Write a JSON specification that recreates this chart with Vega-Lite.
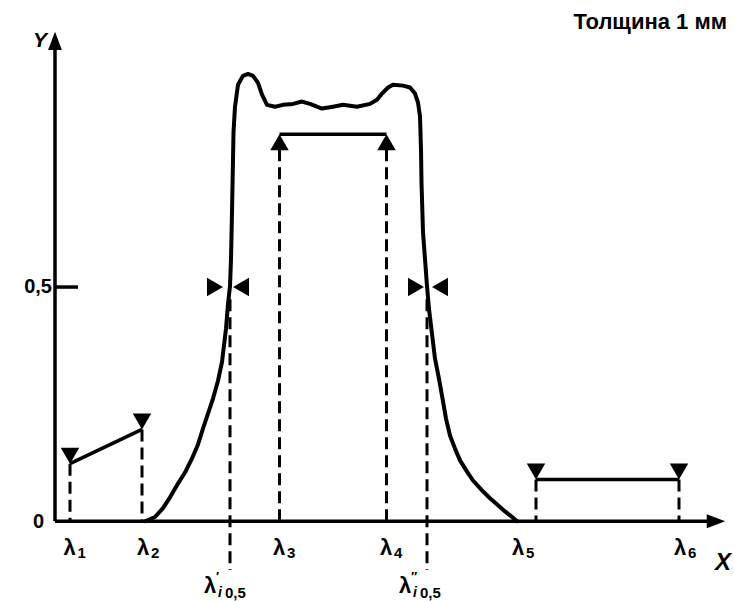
{
  "$schema": "https://vega.github.io/schema/vega-lite/v6.json",
  "width": 734,
  "height": 601,
  "padding": 0,
  "autosize": {"type": "fit", "contains": "padding"},
  "background": "white",
  "config": {"view": {"stroke": null}},
  "datasets": {
    "curve": [
      {"x": 90, "y": 0}, {"x": 100, "y": 0.009}, {"x": 108, "y": 0.028}, {"x": 115, "y": 0.051},
      {"x": 122, "y": 0.077}, {"x": 130, "y": 0.104}, {"x": 137, "y": 0.134}, {"x": 143, "y": 0.164},
      {"x": 148, "y": 0.198}, {"x": 153, "y": 0.23}, {"x": 158, "y": 0.262}, {"x": 163, "y": 0.3},
      {"x": 167, "y": 0.34}, {"x": 171, "y": 0.411}, {"x": 173, "y": 0.464}, {"x": 175, "y": 0.502},
      {"x": 176, "y": 0.56}, {"x": 177, "y": 0.66}, {"x": 178, "y": 0.772}, {"x": 178.5, "y": 0.83},
      {"x": 180, "y": 0.885}, {"x": 183, "y": 0.932}, {"x": 188, "y": 0.951}, {"x": 193, "y": 0.955},
      {"x": 198, "y": 0.951}, {"x": 203, "y": 0.936}, {"x": 207, "y": 0.911}, {"x": 212, "y": 0.889},
      {"x": 220, "y": 0.885}, {"x": 228, "y": 0.889}, {"x": 238, "y": 0.891}, {"x": 247, "y": 0.896},
      {"x": 255, "y": 0.891}, {"x": 267, "y": 0.881}, {"x": 278, "y": 0.885}, {"x": 288, "y": 0.889},
      {"x": 302, "y": 0.885}, {"x": 315, "y": 0.891}, {"x": 322, "y": 0.9}, {"x": 327, "y": 0.913},
      {"x": 333, "y": 0.926}, {"x": 338, "y": 0.932}, {"x": 348, "y": 0.93}, {"x": 355, "y": 0.926},
      {"x": 360, "y": 0.913}, {"x": 363, "y": 0.894}, {"x": 365, "y": 0.864}, {"x": 366, "y": 0.794},
      {"x": 366.5, "y": 0.723}, {"x": 368, "y": 0.617}, {"x": 370, "y": 0.56}, {"x": 372, "y": 0.502},
      {"x": 374, "y": 0.453}, {"x": 377, "y": 0.4}, {"x": 380, "y": 0.347}, {"x": 384, "y": 0.304},
      {"x": 387, "y": 0.268}, {"x": 391, "y": 0.219}, {"x": 395, "y": 0.183}, {"x": 400, "y": 0.155},
      {"x": 405, "y": 0.13}, {"x": 412, "y": 0.106}, {"x": 418, "y": 0.087}, {"x": 427, "y": 0.066},
      {"x": 435, "y": 0.049}, {"x": 443, "y": 0.034}, {"x": 450, "y": 0.021}, {"x": 456, "y": 0.011},
      {"x": 462, "y": 0}
    ],
    "solid": [
      {"x": 0, "x2": 656, "y": 0, "y2": 0},
      {"x": 0, "x2": 0, "y": 0, "y2": 1.01},
      {"x": 0, "x2": 23, "y": 0.5, "y2": 0.5},
      {"x": 15, "x2": 87, "y": 0.123, "y2": 0.196},
      {"x": 224.5, "x2": 331.5, "y": 0.826, "y2": 0.826},
      {"x": 481, "x2": 624, "y": 0.089, "y2": 0.089}
    ],
    "dashes": [
      {"x": 15, "y": 0.123, "y2": 0},
      {"x": 87, "y": 0.196, "y2": 0},
      {"x": 224.5, "y": 0.794, "y2": 0},
      {"x": 331.5, "y": 0.794, "y2": 0},
      {"x": 175, "y": 0.474, "y2": -0.104},
      {"x": 372, "y": 0.474, "y2": -0.104},
      {"x": 481, "y": 0.089, "y2": 0},
      {"x": 624, "y": 0.089, "y2": 0}
    ],
    "marks": [
      {"x": 15, "y": 0.14, "d": "down"},
      {"x": 87, "y": 0.213, "d": "down"},
      {"x": 224.5, "y": 0.809, "d": "up"},
      {"x": 331.5, "y": 0.809, "d": "up"},
      {"x": 481, "y": 0.106, "d": "down"},
      {"x": 624, "y": 0.106, "d": "down"},
      {"x": 160, "y": 0.5, "d": "right"},
      {"x": 186, "y": 0.5, "d": "left"},
      {"x": 361, "y": 0.5, "d": "right"},
      {"x": 385, "y": 0.5, "d": "left"},
      {"x": 661, "y": 0, "d": "xa"},
      {"x": 0, "y": 1.0255, "d": "ya"}
    ],
    "lam": [
      {"x": 14.5, "y": -0.057, "t": "λ", "s": "1"},
      {"x": 88, "y": -0.057, "t": "λ", "s": "2"},
      {"x": 224, "y": -0.057, "t": "λ", "s": "3"},
      {"x": 331, "y": -0.057, "t": "λ", "s": "4"},
      {"x": 463, "y": -0.057, "t": "λ", "s": "5"},
      {"x": 625, "y": -0.057, "t": "λ", "s": "6"}
    ],
    "lamp": [
      {"x": 155, "y": -0.138, "t": "λ", "p": "′", "i": "i", "s": "0,5"},
      {"x": 350, "y": -0.138, "t": "λ", "p": "″", "i": "i", "s": "0,5"}
    ],
    "labels": [
      {"x": -11, "y": -0.002, "t": "0"},
      {"x": -3, "y": 0.5, "t": "0,5"}
    ],
    "axnames": [
      {"x": -15, "y": 1.026, "t": "Y", "k": "y"},
      {"x": 668, "y": -0.089, "t": "X", "k": "x"}
    ],
    "title": [
      {"x": 672, "y": 1.066, "t": "Толщина 1 мм"}
    ]
  },
  "encoding": {
    "x": {"field": "x", "type": "quantitative", "axis": null, "scale": {"domain": [-55, 679], "nice": false, "zero": false}},
    "y": {"field": "y", "type": "quantitative", "axis": null, "scale": {"domain": [-0.166, 1.1128], "nice": false, "zero": false}}
  },
  "layer": [
    {
      "data": {"name": "solid"},
      "mark": {"type": "rule", "color": "black", "strokeWidth": 3.5},
      "encoding": {"x2": {"field": "x2"}, "y2": {"field": "y2"}}
    },
    {
      "data": {"name": "dashes"},
      "mark": {"type": "rule", "color": "black", "strokeWidth": 3, "strokeDash": [12, 6]},
      "encoding": {"y2": {"field": "y2"}}
    },
    {
      "data": {"name": "curve"},
      "mark": {"type": "line", "color": "black", "strokeWidth": 4, "strokeJoin": "round", "strokeCap": "round"},
      "encoding": {"order": {"value": null}}
    },
    {
      "data": {"name": "marks"},
      "mark": {"type": "point", "filled": true, "color": "black", "opacity": 1, "size": 340, "strokeWidth": 0},
      "encoding": {
        "shape": {
          "field": "d", "type": "nominal", "legend": null,
          "scale": {
            "domain": ["down", "up", "right", "left", "xa", "ya"],
            "range": ["triangle-down", "triangle-up", "triangle-right", "triangle-left", "M1,0L-1,-0.75L-1,0.75Z", "M0,-1L-0.75,1L0.75,1Z"]
          }
        }
      }
    },
    {
      "data": {"name": "lam"},
      "mark": {"type": "text", "font": "Liberation Sans", "fontWeight": "bold", "fontSize": 22, "align": "center", "baseline": "middle", "color": "black"},
      "encoding": {"text": {"field": "t"}}
    },
    {
      "data": {"name": "lam"},
      "mark": {"type": "text", "font": "Liberation Sans", "fontWeight": "bold", "fontSize": 15, "align": "left", "baseline": "middle", "dx": 8, "dy": 5, "color": "black"},
      "encoding": {"text": {"field": "s"}}
    },
    {
      "data": {"name": "lamp"},
      "mark": {"type": "text", "font": "Liberation Sans", "fontWeight": "bold", "fontSize": 22, "align": "center", "baseline": "middle", "color": "black"},
      "encoding": {"text": {"field": "t"}}
    },
    {
      "data": {"name": "lamp"},
      "mark": {"type": "text", "font": "Liberation Sans", "fontWeight": "bold", "fontSize": 13, "align": "left", "baseline": "middle", "dx": 6, "dy": -9, "color": "black"},
      "encoding": {"text": {"field": "p"}}
    },
    {
      "data": {"name": "lamp"},
      "mark": {"type": "text", "font": "Liberation Sans", "fontWeight": "bold", "fontStyle": "italic", "fontSize": 14, "align": "left", "baseline": "middle", "dx": 8, "dy": 7, "color": "black"},
      "encoding": {"text": {"field": "i"}}
    },
    {
      "data": {"name": "lamp"},
      "mark": {"type": "text", "font": "Liberation Sans", "fontWeight": "bold", "fontSize": 15, "align": "left", "baseline": "middle", "dx": 15, "dy": 7, "color": "black"},
      "encoding": {"text": {"field": "s"}}
    },
    {
      "data": {"name": "labels"},
      "mark": {"type": "text", "font": "Liberation Sans", "fontWeight": "bold", "fontSize": 20, "align": "right", "baseline": "middle", "color": "black"},
      "encoding": {"text": {"field": "t"}}
    },
    {
      "data": {"name": "axnames"},
      "transform": [{"filter": "datum.k == 'y'"}],
      "mark": {"type": "text", "font": "Liberation Sans", "fontWeight": "bold", "fontStyle": "italic", "fontSize": 21, "align": "center", "baseline": "middle", "color": "black"},
      "encoding": {"text": {"field": "t"}}
    },
    {
      "data": {"name": "axnames"},
      "transform": [{"filter": "datum.k == 'x'"}],
      "mark": {"type": "text", "font": "Liberation Sans", "fontWeight": "bold", "fontStyle": "italic", "fontSize": 24, "align": "center", "baseline": "middle", "color": "black"},
      "encoding": {"text": {"field": "t"}}
    },
    {
      "data": {"name": "title"},
      "mark": {"type": "text", "font": "Liberation Sans", "fontWeight": "bold", "fontSize": 22, "align": "right", "baseline": "middle", "color": "black"},
      "encoding": {"text": {"field": "t"}}
    }
  ]
}
